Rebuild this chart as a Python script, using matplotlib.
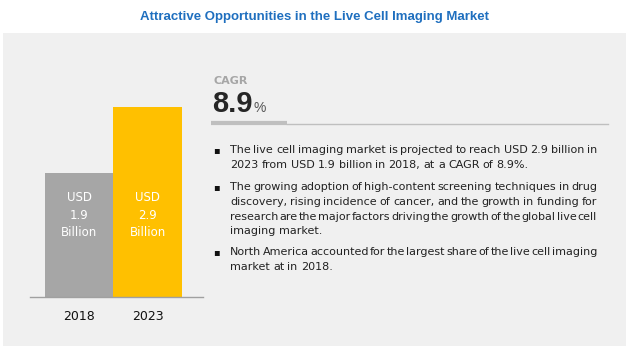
import matplotlib
matplotlib.use("Agg")
import matplotlib.pyplot as plt
from matplotlib.patches import Rectangle
from matplotlib.lines import Line2D

W, H = 630, 353

# data
years = ["2018", "2023"]
values = [1.9, 2.9]
bar_colors = ["#a6a6a6", "#ffc000"]
cagr = "8.9"
title = "Attractive Opportunities in the Live Cell Imaging Market"
bullets = [
    ["The live cell imaging market is projected to reach USD 2.9 billion in",
     "2023 from USD 1.9 billion in 2018, at a CAGR of 8.9%."],
    ["The growing adoption of high-content screening techniques in drug",
     "discovery, rising incidence of cancer, and the growth in funding for",
     "research are the major factors driving the growth of the global live cell",
     "imaging market."],
    ["North America accounted for the largest share of the live cell imaging",
     "market at in 2018."],
]


def fx(px):
    return px / W


def fy(py):
    return 1 - py / H


fig = plt.figure(figsize=(W / 100, H / 100), dpi=100)
fig.patch.set_facecolor("white")

# grey panel
fig.patches.append(Rectangle((fx(3), fy(346)), fx(623), (346 - 33) / H,
                             transform=fig.transFigure, facecolor="#f0f0f0",
                             edgecolor="none", zorder=-5))

fig.text(0.5, fy(17), title, ha="center", va="center", color="#1f6fbf",
         fontsize=9.5, fontweight="bold", family="Liberation Sans")

# bar chart
ax = fig.add_axes([fx(30), fy(297), fx(173), (297 - 60) / H])
ax.set_facecolor("none")
x = [0, 1]
ax.bar(x, values, width=1.0, color=bar_colors, zorder=2)
ax.set_xlim(-0.72, 1.81)
ax.set_ylim(0, 2.9 * 237 / 190)
for s in ["top", "right", "left"]:
    ax.spines[s].set_visible(False)
ax.spines["bottom"].set_color("#a0a0a0")
ax.spines["bottom"].set_linewidth(1.0)
ax.set_yticks([])
ax.set_xticks(x)
ax.set_xticklabels(years, fontsize=9, family="DejaVu Sans", color="#111111")
ax.tick_params(axis="x", length=0, pad=9)
for xi, v in zip(x, values):
    ax.text(xi, 1.25, "USD\n%.1f\nBillion" % v, ha="center", va="center",
            color="white", fontsize=8.5, linespacing=1.45,
            family="DejaVu Sans", zorder=3)

# CAGR block
fig.text(fx(213), fy(81), "CAGR", color="#a6a6a6", fontsize=8,
         fontweight="bold", va="center", ha="left", family="DejaVu Sans")
t89 = fig.text(fx(212), fy(112), cagr, color="#262626", fontsize=21,
               fontweight="bold", va="baseline", ha="left",
               family="Liberation Sans")
fig.canvas.draw()
r = fig.canvas.get_renderer()
w89 = t89.get_window_extent(r).width
fig.text(fx(212 + w89 + 1), fy(112), "%", color="#555555", fontsize=10,
         va="baseline", ha="left", family="Liberation Sans")
fig.lines.append(Line2D([fx(211), fx(287)], [fy(123), fy(123)],
                        transform=fig.transFigure, color="#bfbfbf", lw=3,
                        solid_capstyle="butt"))
fig.lines.append(Line2D([fx(287), fx(608)], [fy(124), fy(124)],
                        transform=fig.transFigure, color="#bfbfbf", lw=1))

# bullets, justified by hand
left, right = 230, 597
y0 = [150, 187, 252]
lh = 14.8
fs = 8
for para, ys in zip(bullets, y0):
    fig.text(fx(213), fy(ys), "\u25aa", fontsize=7, va="center", ha="left",
             color="#111111", family="DejaVu Sans")
    for li, line in enumerate(para):
        yy = fy(ys + li * lh)
        words = line.split(" ")
        texts = [fig.text(0, yy, w_, fontsize=fs, va="center", ha="left",
                          color="#222222", family="DejaVu Sans")
                 for w_ in words]
        widths = [t.get_window_extent(r).width for t in texts]
        last = li == len(para) - 1
        if last or len(words) == 1:
            gap = 3.2
        else:
            gap = (right - left - sum(widths)) / (len(words) - 1)
        xx = left
        for t, wd in zip(texts, widths):
            t.set_x(fx(xx))
            xx += wd + gap

fig.savefig("out.png", dpi=100, facecolor="white")
